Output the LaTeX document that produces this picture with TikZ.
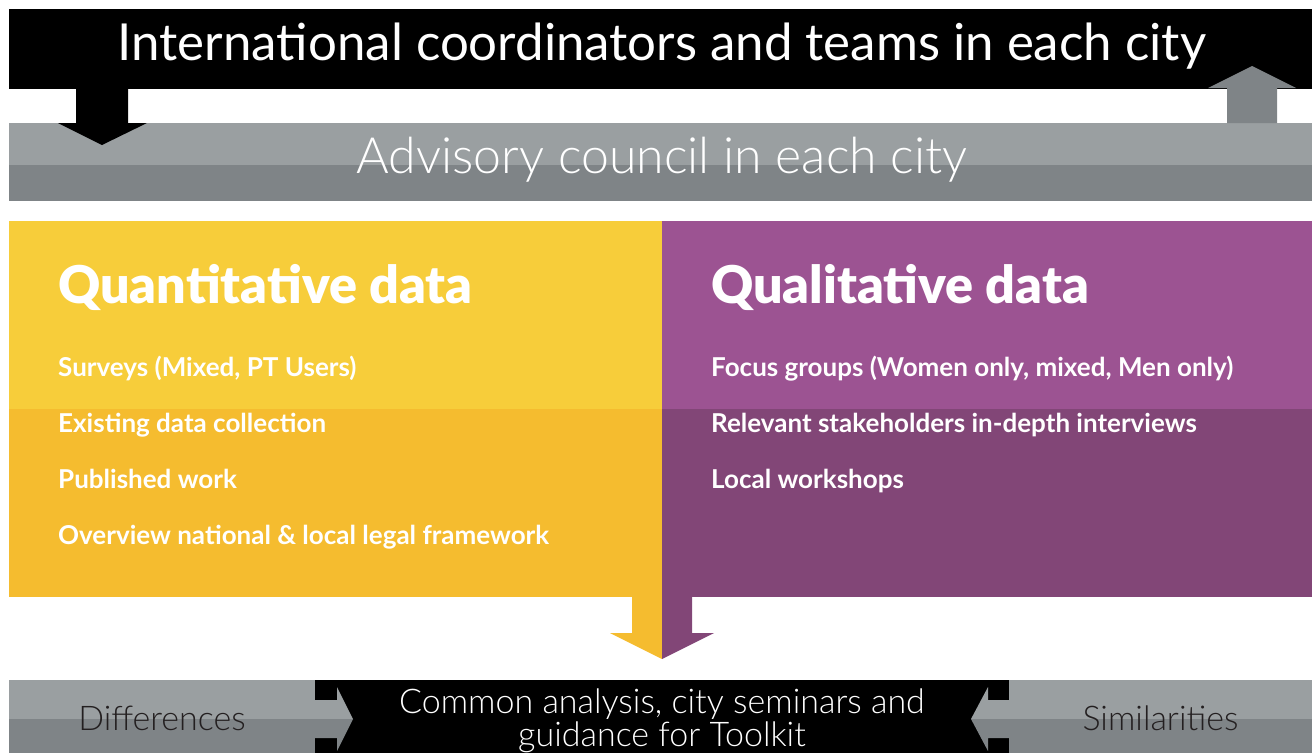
\documentclass[tikz,border=0pt]{standalone}
\usepackage{fontspec}
\setmainfont{Lato}
\newfontfamily\lightfont{Lato Light}
\newfontfamily\heavyfont{Lato Black}
\usetikzlibrary{calc}

\definecolor{ltgray}{HTML}{9A9FA1}
\definecolor{dkgray}{HTML}{7F8487}
\definecolor{quanttop}{HTML}{F7CD3A}
\definecolor{quantbot}{HTML}{F5BC2F}
\definecolor{qualtop}{HTML}{9C5392}
\definecolor{qualbot}{HTML}{824677}
\definecolor{darktext}{HTML}{231F20}

\tikzset{
  panel/.style={anchor=north west, inner sep=0pt, outer sep=0pt},
  split/.style 2 args={fill=#1, path picture={\fill[#2] ($(path picture bounding box.west)+(0,2.5)$) rectangle (path picture bounding box.south east);}},
  item/.style={anchor=base west, inner sep=0pt, text=white, font=\bfseries\fontsize{26}{30}\selectfont},
  heading/.style={anchor=base west, inner sep=0pt, text=white, font=\heavyfont\fontsize{52}{58}\selectfont},
  lowtext/.style={inner sep=0pt, font=\lightfont\fontsize{34}{33}\selectfont}
}

\begin{document}
\begin{tikzpicture}[x=1pt,y=-1pt]
            \useasboundingbox (0,0) rectangle (1312,753);
            % bars
            \node[panel, fill=black, minimum width=1303pt, minimum height=80pt] (title) at (9,9) {};
            \node[panel, split={ltgray}{dkgray}, minimum width=1303pt, minimum height=78pt] (adv) at (9,123) {};
            \node[panel, fill=quanttop, path picture={\fill[quantbot] (path picture bounding box.west) rectangle (path picture bounding box.south east);}, minimum width=653pt, minimum height=376pt] (quant) at (9,221) {};
            \node[panel, fill=qualtop, path picture={\fill[qualbot] (path picture bounding box.west) rectangle (path picture bounding box.south east);}, minimum width=650pt, minimum height=376pt] (qual) at (662,221) {};
            \node[panel, split={ltgray}{dkgray}, minimum width=306pt, minimum height=73pt] (diff) at (9,680) {};
            \node[panel, fill=black, minimum width=694pt, minimum height=73pt] (common) at (315,680) {};
            \node[panel, split={ltgray}{dkgray}, minimum width=303pt, minimum height=73pt] (sim) at (1009,680) {};
            % texts
            \node[anchor=base, inner sep=0pt, text=white, font=\fontsize{51}{58}\selectfont] (titletext) at (662,60) {International coordinators and teams in each city};
            \node[anchor=base, inner sep=0pt, text=white, font=\lightfont\fontsize{50}{56}\selectfont] (advtext) at (662,173) {Advisory council in each city};
            \node[heading] (quanthead) at (58,303) {Quantitative data};
            \node[heading] (qualhead) at (711,303) {Qualitative data};
            \node[item] (q1) at (58,376) {Surveys (Mixed, PT Users)};
            \node[item] (q2) at (58,432) {Existing data collection};
            \node[item] (q3) at (58,488) {Published work};
            \node[item] (q4) at (58,544) {Overview national \& local legal framework};
            \node[item] (l1) at (711,376) {Focus groups (Women only, mixed, Men only)};
            \node[item] (l2) at (711,432) {Relevant stakeholders in-depth interviews};
            \node[item] (l3) at (711,488) {Local workshops};
            \node[lowtext, anchor=base, text=darktext] (difftext) at (diff.center |- 0,730) {Differences};
            \node[lowtext, anchor=base, text=darktext] (simtext) at (sim.center |- 0,730) {Similarities};
            \node[lowtext, anchor=center, align=center, text=white] (commtext) at (662,721) {Common analysis, city seminars and\\guidance for Toolkit};
            % block arrows
            \coordinate (ldn) at ($(title.south west)+(93,0)$);
            \fill[black] (ldn) ++(-26,0) -- ++(52,0) -- ++(0,34) -- ++(19,0) -- ++(-45,22) -- ++(-44,-22) -- ++(18,0) -- cycle;
            \coordinate (rup) at ($(adv.north west)+(1243,0)$);
            \fill[dkgray] (rup) ++(-25,0) -- ++(0,-35) -- ++(-19,0) -- ++(44,-22) -- ++(44,22) -- ++(-19,0) -- ++(0,35) -- cycle;
            \coordinate (mid) at (quant.south east);
            \fill[quantbot] (mid) -- ++(-30,0) -- ++(0,36) -- ++(-22,0) -- ++(52,26) -- cycle;
            \fill[qualbot] (mid) -- ++(30,0) -- ++(0,36) -- ++(22,0) -- ++(-52,26) -- cycle;
            \coordinate (la) at ($(diff.north east)+(0,39)$);
            \fill[ltgray] (la) -- ++(0,-19) -- ++(22,0) -- ++(0,-13) -- ++(16,32) -- cycle;
            \fill[dkgray] (la) -- ++(0,19) -- ++(22,0) -- ++(0,13) -- ++(16,-32) -- cycle;
            \coordinate (ra) at ($(sim.north west)+(0,39)$);
            \fill[ltgray] (ra) -- ++(0,-19) -- ++(-21,0) -- ++(0,-13) -- ++(-17,32) -- cycle;
            \fill[dkgray] (ra) -- ++(0,19) -- ++(-21,0) -- ++(0,13) -- ++(-17,-32) -- cycle;
        \end{tikzpicture}
\end{document}
